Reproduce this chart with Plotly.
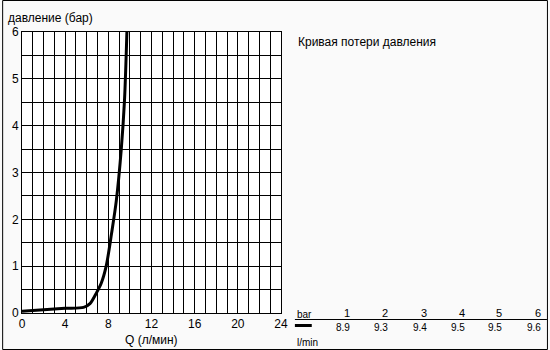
import plotly.graph_objects as go

# Curve data
flow_q = [0.0, 2.0, 4.0, 5.7, 6.3, 6.9, 7.35, 7.8, 8.3, 8.74, 9.2, 9.5, 9.72]
pressure_bar = [0.04, 0.07, 0.1, 0.12, 0.2, 0.43, 0.64, 1.0, 1.7, 2.4, 3.5, 4.55, 6.0]

x_ticks = [0, 4, 8, 12, 16, 20, 24]
y_ticks = [0, 1, 2, 3, 4, 5, 6]

table_bar = [1, 2, 3, 4, 5, 6]
table_flow = ["8.9", "9.3", "9.4", "9.5", "9.5", "9.6"]

y_title = "давление (бар)"
x_title = "Q (л/мин)"
chart_title = "Кривая потери давления"

FONT = "Liberation Sans, Arial, sans-serif"

L, R, T, B = 20, 281, 32, 313  # plot area in pixels
W, H = 550, 350


def px(xp):
    return (xp - L) / (R - L)


def py(yp):
    return (B - yp) / (B - T)


fig = go.Figure()
fig.add_trace(go.Scatter(
    x=flow_q, y=pressure_bar, mode="lines",
    line=dict(color="black", width=3, shape="spline", smoothing=0.8),
    hoverinfo="skip", showlegend=False,
))

annotations = [
    dict(text=y_title, x=px(4), y=py(18), xanchor="left", yanchor="middle"),
    dict(text=x_title, x=px(150), y=py(340), xanchor="center", yanchor="middle"),
    dict(text=chart_title, x=px(296), y=py(42), xanchor="left", yanchor="middle"),
    dict(text="bar", x=px(295), y=py(314), xanchor="left", yanchor="middle",
         font=dict(size=10)),
    dict(text="l/min", x=px(295), y=py(342), xanchor="left", yanchor="middle",
         font=dict(size=10)),
]
col_right = [353, 391, 430, 468, 506, 545]
for i, (b, q) in enumerate(zip(table_bar, table_flow)):
    annotations.append(dict(text=str(b), x=px(col_right[i]), y=py(313),
                            xanchor="right", yanchor="middle", font=dict(size=11)))
    annotations.append(dict(text=q, x=px(col_right[i]), y=py(327),
                            xanchor="right", yanchor="middle", font=dict(size=10)))
for a in annotations:
    a.update(xref="paper", yref="paper", showarrow=False)
    a.setdefault("font", {})
    a["font"] = dict(family=FONT, size=a["font"].get("size", 12), color="black")

shapes = [
    # outer frame
    dict(type="rect", x0=px(0.5), x1=px(549.5), y0=py(0.5), y1=py(349.5),
         line=dict(color="black", width=1)),
    # header line of table
    dict(type="line", x0=px(295), x1=px(549), y0=py(319.5), y1=py(319.5),
         line=dict(color="black", width=1)),
    # legend line
    dict(type="line", x0=px(295), x1=px(312), y0=py(325.5), y1=py(325.5),
         line=dict(color="black", width=3)),
]
for s in shapes:
    s.update(xref="paper", yref="paper")

fig.update_layout(
    width=W, height=H, autosize=False,
    margin=dict(l=L, r=W - R, t=T, b=H - B, pad=0),
    paper_bgcolor="#fafafa", plot_bgcolor="white",
    font=dict(family=FONT, size=12, color="black"),
    annotations=annotations, shapes=shapes,
    showlegend=False,
)
fig.update_xaxes(
    range=[0, 24], tickvals=x_ticks, ticks="", showgrid=True, gridcolor="black",
    gridwidth=1, showline=True, linecolor="black", linewidth=1, mirror=True,
    zeroline=False, minor=dict(dtick=1, showgrid=True, gridcolor="black", gridwidth=1),
    tickfont=dict(size=12), fixedrange=True,
)
fig.update_yaxes(
    range=[0, 6], tickvals=y_ticks, ticks="", showgrid=True, gridcolor="black",
    gridwidth=1, showline=True, linecolor="black", linewidth=1, mirror=True,
    zeroline=False, minor=dict(dtick=0.5, showgrid=True, gridcolor="black", gridwidth=1),
    tickfont=dict(size=12), fixedrange=True,
)

fig.write_html("out.html", config=dict(displayModeBar=False))
